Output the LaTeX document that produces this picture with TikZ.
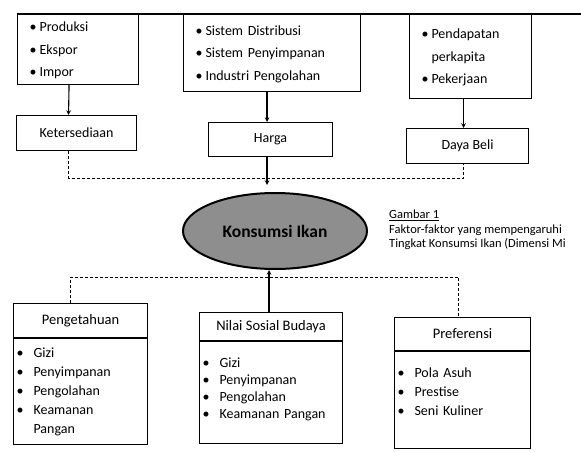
\documentclass[tikz,border=0pt]{standalone}
\usepackage{fontspec}
\setmainfont{Carlito}
\usetikzlibrary{positioning,shapes.geometric}
\definecolor{ovalgray}{RGB}{142,142,142}
\tikzset{
  listbox/.style={draw, line width=1.1pt, inner xsep=12pt, inner ysep=0pt, align=left,
    font=\fontsize{14}{22.5}\selectfont},
  factor/.style={draw, line width=1.1pt, inner sep=0pt, font=\fontsize{14}{16}\selectfont},
  headbox/.style={draw, line width=1.1pt, inner sep=0pt, font=\fontsize{14.5}{17}\selectfont},
  bodybox/.style={draw, line width=1.1pt, inner xsep=3pt, inner ysep=0pt, align=left},
  dashline/.style={line width=1pt, dash pattern=on 3pt off 2pt},
  link/.style={line width=1.1pt, ->},
  caption/.style={inner sep=0pt, align=left, font=\fontsize{12.5}{14.5}\selectfont}
}
\newcommand{\bul}{\textbullet}
\begin{document}
\begin{tikzpicture}[x=1pt, y=-1pt, >=stealth]
  \useasboundingbox (0,0) rectangle (581,452);
  \coordinate (topEnd) at (581,14);
  \coordinate (topJoin) at (267,178);
  \coordinate (botJoin) at (269,277);

  \node[listbox, text width=97pt, minimum height=70pt, anchor=north west] (prod) at (17,14)
    {\begin{tabular}{@{}l@{\hspace{3pt}}l@{}}\bul & Produksi\\ \bul & Ekspor\\ \bul & Impor\end{tabular}};
  \node[listbox, text width=153pt, minimum height=77pt, anchor=north west] (sistem) at (183,14)
    {\begin{tabular}{@{}l@{\hspace{3pt}}l@{}}\bul & Sistem Distribusi\\ \bul & Sistem Penyimpanan\\ \bul & Industri Pengolahan\end{tabular}};
  \node[listbox, text width=98pt, minimum height=84pt, anchor=north west] (income) at (409,14)
    {\begin{tabular}{@{}l@{\hspace{3pt}}l@{}}\bul & Pendapatan\\ & perkapita\\ \bul & Pekerjaan\end{tabular}};
  \draw[line width=1.1pt] (prod.north west) -- (topEnd);

  \node[factor, minimum width=120pt, minimum height=35pt, anchor=north west] (kets) at (16,115) {Ketersediaan};
  \node[factor, minimum width=124pt, minimum height=34pt, anchor=north west] (harga) at (208,122) {Harga};
  \node[factor, minimum width=122pt, minimum height=35pt, anchor=north west] (daya) at (406,128) {Daya Beli};

  \draw[link] ([xshift=-9pt]prod.south) -- ([xshift=-8pt]kets.north);
  \draw[link] (sistem.south -| topJoin) -- (harga.north -| topJoin);
  \draw[link] ([xshift=-7pt]income.south) -- ([xshift=-4pt]daya.north);

  \node[ellipse, draw, line width=2pt, fill=ovalgray, minimum width=184pt, minimum height=76pt,
    inner sep=0pt, font=\fontsize{17.5}{20}\selectfont\bfseries] (konsumsi) at (275,231) {Konsumsi Ikan};

  \draw[dashline] ([xshift=-8pt]kets.south) |- (topJoin) -| ([xshift=-4pt]daya.south);
  \draw[link, shorten >=7pt] (harga.south -| topJoin) -- (topJoin |- konsumsi.north);

  \node[caption, anchor=north west] (caption) at (389,210)
    {\underline{Gambar 1}\\Faktor-faktor yang mempengaruhi\\Tingkat Konsumsi Ikan (Dimensi Mi};

  \node[headbox, minimum width=134pt, minimum height=34pt, anchor=north west] (pengHead) at (13,303) {Pengetahuan};
  \node[bodybox, text width=128pt, minimum height=106pt, below=0pt of pengHead, font=\fontsize{14}{19}\selectfont] (pengBody)
    {\begin{tabular}{@{}l@{\hspace{10pt}}l@{}}\bul & Gizi\\ \bul & Penyimpanan\\ \bul & Pengolahan\\ \bul & Keamanan\\ & Pangan\end{tabular}};

  \node[headbox, minimum width=143pt, minimum height=28pt, anchor=north west] (nilaiHead) at (199,312) {Nilai Sosial Budaya};
  \node[bodybox, text width=137pt, minimum height=102pt, below=0pt of nilaiHead, font=\fontsize{14}{17}\selectfont] (nilaiBody)
    {\begin{tabular}{@{}l@{\hspace{10pt}}l@{}}\bul & Gizi\\ \bul & Penyimpanan\\ \bul & Pengolahan\\ \bul & Keamanan Pangan\\[6pt]\end{tabular}};

  \node[headbox, minimum width=136pt, minimum height=33pt, anchor=north west] (prefHead) at (394,317) {Preferensi};
  \node[bodybox, text width=130pt, minimum height=97pt, below=0pt of prefHead, font=\fontsize{14}{19}\selectfont] (prefBody)
    {\begin{tabular}{@{}l@{\hspace{10pt}}l@{}}\bul & Pola Asuh\\ \bul & Prestise\\ \bul & Seni Kuliner\\[15pt]\end{tabular}};

  \draw[dashline] ([xshift=-10pt]pengHead.north) |- (botJoin) -| ([xshift=-4pt]prefHead.north);
  \draw[link] (nilaiHead.north -| botJoin) -- (botJoin |- konsumsi.south);
\end{tikzpicture}
\end{document}
